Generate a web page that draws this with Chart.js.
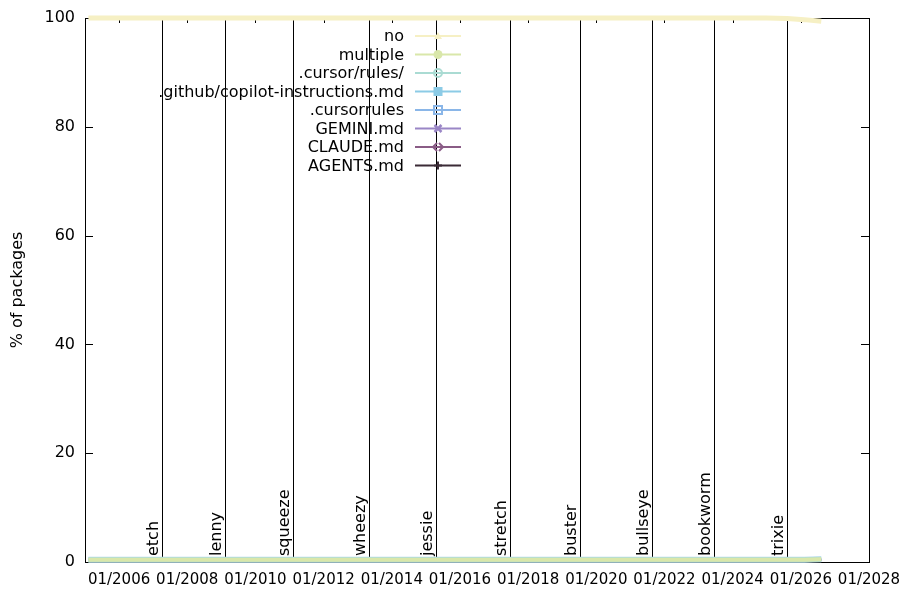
<!DOCTYPE html>
<html>
<head>
<meta charset="utf-8">
<script src="https://cdn.jsdelivr.net/npm/chart.js@4/dist/chart.umd.min.js"></script>
<style>
html, body { margin: 0; background: #fff; }
#wrap { width: 900px; height: 600px; }
</style>
</head>
<body>
<div id="wrap"><canvas id="chart"></canvas></div>
<script>
// x values are decimal years
const dates = [2005.1, 2007, 2009, 2011, 2013, 2015, 2017, 2019, 2021, 2023, 2025, 2025.6, 2026.1, 2026.6];
const noFile      = [100, 100, 100, 100, 100, 100, 100, 100, 100, 100, 100, 99.9, 99.7, 99.4];
const multiple    = [0.4, 0.4, 0.4, 0.4, 0.4, 0.4, 0.4, 0.4, 0.4, 0.4, 0.4, 0.4, 0.4, 0.5];
const cursorDir   = [0.4, 0.4, 0.4, 0.4, 0.4, 0.4, 0.4, 0.4, 0.4, 0.4, 0.4, 0.4, 0.4, 0.5];
const copilot     = [0.4, 0.4, 0.4, 0.4, 0.4, 0.4, 0.4, 0.4, 0.4, 0.4, 0.4, 0.4, 0.4, 0.5];
const cursorrules = [0.4, 0.4, 0.4, 0.4, 0.4, 0.4, 0.4, 0.4, 0.4, 0.4, 0.4, 0.4, 0.4, 0.5];
const gemini      = [0.4, 0.4, 0.4, 0.4, 0.4, 0.4, 0.4, 0.4, 0.4, 0.4, 0.4, 0.4, 0.4, 0.4];
const claude      = [0.4, 0.4, 0.4, 0.4, 0.4, 0.4, 0.4, 0.4, 0.4, 0.4, 0.4, 0.4, 0.4, 0.4];
const agents      = [0.4, 0.4, 0.4, 0.4, 0.4, 0.4, 0.4, 0.4, 0.4, 0.4, 0.4, 0.4, 0.4, 0.4];

const xTicks = [2006, 2008, 2010, 2012, 2014, 2016, 2018, 2020, 2022, 2024, 2026, 2028];
const yTicks = [0, 20, 40, 60, 80, 100];

const releaseNames = ['etch', 'lenny', 'squeeze', 'wheezy', 'jessie', 'stretch', 'buster', 'bullseye', 'bookworm', 'trixie'];
const releaseDates = [2007.27, 2009.12, 2011.1, 2013.34, 2015.31, 2017.46, 2019.51, 2021.62, 2023.44, 2025.6];

const FAMILY = '"DejaVu Sans", sans-serif';
const FONT = '16px ' + FAMILY;

const series = [
  { label: 'no', data: noFile, color: '#f6f0c4', width: 5, marker: 'triangle' },
  { label: 'multiple', data: multiple, color: '#d9e7aa', width: 4, marker: 'dot' },
  { label: '.cursor/rules/', data: cursorDir, color: '#aadbd3', width: 5, marker: 'circle' },
  { label: '.github/copilot-instructions.md', data: copilot, color: '#b2d8ec', width: 6, marker: 'squareFill' },
  { label: '.cursorrules', data: cursorrules, color: '#8ab6e8', width: 2, marker: 'square' },
  { label: 'GEMINI.md', data: gemini, color: '#9a86c6', width: 2, marker: 'cross' },
  { label: 'CLAUDE.md', data: claude, color: '#8a5c86', width: 2, marker: 'bowtie' },
  { label: 'AGENTS.md', data: agents, color: '#3b2b36', width: 2, marker: 'plus' }
];

const legendColors = ['#f6f0c4', '#d9e7aa', '#aadbd3', '#8ccbe6', '#8ab6e8', '#9a86c6', '#8a5c86', '#3b2b36'];

function drawMarker(ctx, type, x, y, color) {
  ctx.save();
  ctx.strokeStyle = color;
  ctx.fillStyle = color;
  ctx.lineWidth = 2;
  ctx.beginPath();
  if (type === 'triangle') {
    ctx.moveTo(x - 4, y + 3); ctx.lineTo(x + 4, y + 3); ctx.lineTo(x, y - 4); ctx.closePath(); ctx.fill();
  } else if (type === 'dot') {
    ctx.arc(x, y, 4.5, 0, Math.PI * 2); ctx.fill();
  } else if (type === 'circle') {
    ctx.arc(x, y, 4, 0, Math.PI * 2); ctx.stroke();
  } else if (type === 'squareFill') {
    ctx.fillRect(x - 4.5, y - 4.5, 9, 9);
  } else if (type === 'square') {
    ctx.strokeRect(x - 4, y - 4, 8, 8);
  } else if (type === 'cross') {
    ctx.lineWidth = 2.5;
    ctx.moveTo(x - 3.5, y - 3.5); ctx.lineTo(x + 3.5, y + 3.5);
    ctx.moveTo(x + 3.5, y - 3.5); ctx.lineTo(x - 3.5, y + 3.5); ctx.stroke();
  } else if (type === 'bowtie') {
    ctx.moveTo(x - 1, y - 4); ctx.lineTo(x - 5, y); ctx.lineTo(x - 1, y + 4);
    ctx.moveTo(x + 1, y - 4); ctx.lineTo(x + 5, y); ctx.lineTo(x + 1, y + 4); ctx.stroke();
  } else if (type === 'plus') {
    ctx.moveTo(x - 4, y); ctx.lineTo(x + 4, y);
    ctx.moveTo(x, y - 4); ctx.lineTo(x, y + 4); ctx.stroke();
  }
  ctx.restore();
}

// frame, mirrored inward ticks and release markers (behind the data)
const framePlugin = {
  id: 'frame',
  beforeDatasetsDraw(chart) {
    const ctx = chart.ctx;
    const area = chart.chartArea;
    const xs = chart.scales.x, ys = chart.scales.y;
    ctx.save();
    ctx.strokeStyle = '#000';
    ctx.lineWidth = 1;
    ctx.strokeRect(Math.round(area.left) + 0.5, Math.round(area.top) + 0.5,
      Math.round(area.right - area.left), Math.round(area.bottom - area.top));
    ctx.beginPath();
    xTicks.forEach(v => {
      const px = Math.round(xs.getPixelForValue(v)) + 0.5;
      ctx.moveTo(px, area.bottom); ctx.lineTo(px, area.bottom - 5);
      ctx.moveTo(px, area.top); ctx.lineTo(px, area.top + 5);
    });
    yTicks.forEach(v => {
      const py = Math.round(ys.getPixelForValue(v)) + 0.5;
      ctx.moveTo(area.left, py); ctx.lineTo(area.left + 8, py);
      ctx.moveTo(area.right, py); ctx.lineTo(area.right - 8, py);
    });
    releaseDates.forEach(d => {
      const px = Math.round(xs.getPixelForValue(d)) + 0.5;
      ctx.moveTo(px, area.top); ctx.lineTo(px, area.bottom);
    });
    ctx.stroke();

    ctx.fillStyle = '#000';
    ctx.font = FONT;
    ctx.textAlign = 'left';
    ctx.textBaseline = 'alphabetic';
    releaseDates.forEach((d, i) => {
      const px = xs.getPixelForValue(d);
      ctx.save();
      ctx.translate(px - 4, area.bottom - 6);
      ctx.rotate(-Math.PI / 2);
      ctx.fillText(releaseNames[i], 0, 0);
      ctx.restore();
    });
    ctx.restore();
  },
  afterDraw(chart) {
    // gnuplot-style key: text right-aligned, sample line to the right
    const ctx = chart.ctx;
    ctx.save();
    ctx.font = FONT;
    ctx.textAlign = 'right';
    ctx.textBaseline = 'middle';
    series.forEach((s, i) => {
      const y = 36 + i * 18.5;
      const c = legendColors[i];
      ctx.fillStyle = '#000';
      ctx.fillText(s.label, 404, y + 1);
      ctx.strokeStyle = c;
      ctx.lineWidth = 2;
      ctx.beginPath();
      ctx.moveTo(415, y); ctx.lineTo(461, y);
      ctx.stroke();
      drawMarker(ctx, s.marker, 438, y, c);
    });
    ctx.restore();
  }
};

const datasets = series.map(s => ({
  label: s.label,
  data: dates.map((d, i) => ({ x: d, y: s.data[i] })),
  borderColor: s.color,
  backgroundColor: s.color,
  borderWidth: s.width,
  borderCapStyle: 'butt',
  pointRadius: 0,
  tension: 0,
  clip: 6
}));

const ctx = document.getElementById('chart').getContext('2d');
new Chart(ctx, {
  type: 'line',
  data: { datasets: datasets },
  options: {
    responsive: true,
    maintainAspectRatio: false,
    animation: false,
    layout: { padding: { top: 18, right: 31, left: 0, bottom: 0 } },
    plugins: {
      legend: { display: false },
      tooltip: { enabled: false }
    },
    scales: {
      x: {
        type: 'linear',
        min: 2005,
        max: 2028,
        grid: { display: false, drawTicks: false },
        border: { display: false },
        afterBuildTicks: scale => { scale.ticks = xTicks.map(v => ({ value: v })); },
        afterFit: scale => {
          scale.height = 38;
          scale.paddingLeft = 0;
          scale.paddingRight = 0;
        },
        ticks: {
          autoSkip: false,
          maxRotation: 0,
          padding: 9,
          color: '#000',
          font: { family: FAMILY, size: 15 },
          callback: v => '01/' + v
        }
      },
      y: {
        min: 0,
        max: 100,
        grid: { display: false, drawTicks: false },
        border: { display: false },
        afterBuildTicks: scale => { scale.ticks = yTicks.map(v => ({ value: v })); },
        afterFit: scale => {
          scale.width = 85;
          scale.paddingTop = 0;
          scale.paddingBottom = 0;
        },
        title: {
          display: true,
          text: '% of packages',
          color: '#000',
          font: { family: FAMILY, size: 16 },
          padding: { top: 8, bottom: 0 }
        },
        ticks: {
          padding: 10,
          color: '#000',
          font: { family: FAMILY, size: 16 }
        }
      }
    }
  },
  plugins: [framePlugin]
});
</script>
</body>
</html>
